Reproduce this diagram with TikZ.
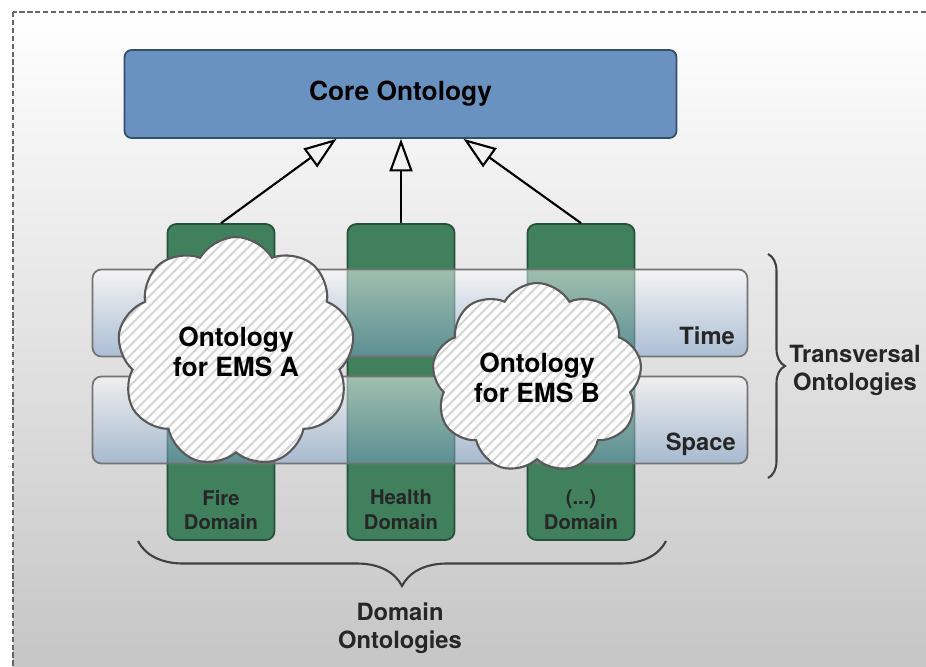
\documentclass[tikz,border=0pt]{standalone}
\usepackage{fontspec}
\setmainfont{TeX Gyre Heros}
\usetikzlibrary{shapes.symbols,patterns.meta,arrows.meta,decorations.pathreplacing,calc}
\definecolor{coreblue}{RGB}{106,146,192}
\definecolor{coreedge}{RGB}{52,78,110}
\definecolor{domgreen}{RGB}{64,128,93}
\definecolor{domedge}{RGB}{38,80,58}
\definecolor{bandblue}{RGB}{120,158,200}
\definecolor{hatch}{RGB}{212,212,212}
\begin{document}
\begin{tikzpicture}[x=0.02cm, y=-0.02cm,
  corebox/.style={draw=coreedge, fill=coreblue, line width=1pt, rounded corners=4pt,
    minimum width=11.04cm, minimum height=1.76cm, font=\fontsize{15}{17}\selectfont\bfseries},
  domcol/.style={draw=domedge, fill=domgreen, line width=1pt, rounded corners=5pt,
    minimum width=2.14cm, minimum height=6.32cm},
  domtxt/.style={align=center, font=\fontsize{11.5}{14}\selectfont\bfseries, text=black!85},
  band/.style={draw=black!55, line width=1pt, rounded corners=5pt, top color=white,
    bottom color=bandblue, fill opacity=0.5, minimum width=13.1cm, minimum height=1.74cm},
  bandtxt/.style={anchor=east, font=\fontsize{13.5}{16}\selectfont\bfseries, text=black!85},
  emscloud/.style={cloud, cloud puffs=9, cloud puff arc=120, cloud ignores aspect, draw=black!65,
    line width=1.2pt, preaction={fill=white}, pattern={Lines[angle=45,distance=4pt,line width=1.2pt]},
    pattern color=hatch, align=center, inner sep=0pt, font=\fontsize{15}{17}\selectfont\bfseries},
  inherit/.style={-{Triangle[open,length=0.65cm,width=0.46cm]}, line width=1.2pt},
  bracket/.style={decorate, line width=1.2pt, draw=black!75},
  sidetxt/.style={align=center, font=\fontsize{13.5}{16}\selectfont\bfseries, text=black!85}]

% background and dashed frame
\clip (0,0) rectangle (926,666);
\fill[white] (0,0) rectangle (926,666);
\shade[top color=white, bottom color=black!23] (13,12) rectangle (940,680);
\draw[black!60, line width=1pt, dash pattern=on 3pt off 1.5pt] (13,12) rectangle (940,680);

% domain columns
\node[domcol] (fire) at (221,382) {};
\node[domcol] (health) at (401,382) {};
\node[domcol] (other) at (581,382) {};

% transversal bands
\node[band] (time) at (420,313) {};
\node[band] (space) at (420,420) {};
\node[bandtxt] (timelbl) at (741,336) {Time};
\node[bandtxt] (spacelbl) at (742,444) {Space};

% ontologies for EMS
\node[emscloud, minimum width=4.74cm, minimum height=4.6cm] (emsA) at (236,352) {Ontology\\for EMS A};
\node[emscloud, minimum width=4.2cm, minimum height=3.8cm] (emsB) at (537,378) {Ontology\\for EMS B};

% core ontology
\node[corebox] (core) at (400.5,94) {Core Ontology};
\draw[inherit] (fire.north) -- ($(core.south)+(-64,0)$);
\draw[inherit] (health.north) -- (health.north |- core.south);
\draw[inherit] (other.north) -- ($(core.south)+(63,0)$);

% column labels
\node[domtxt] (firelbl) at (221,510) {Fire\\Domain};
\node[domtxt] (healthlbl) at (401,510) {Health\\Domain};
\node[domtxt] (otherlbl) at (581,510) {(...)\\Domain};

% braces
\coordinate (tvTop) at (768,254);
\coordinate (tvBot) at (768,478);
\draw[bracket, decoration={brace, amplitude=0.34cm}] (tvTop) -- (tvBot);
\node[sidetxt] (tvlbl) at (855,370) {Transversal\\Ontologies};
\coordinate (doRight) at (666,541);
\coordinate (doLeft) at (138,541);
\draw[bracket, decoration={brace, amplitude=0.9cm}] (doRight) -- (doLeft);
\node[sidetxt] (dolbl) at (400,628) {Domain\\Ontologies};
\end{tikzpicture}
\end{document}
